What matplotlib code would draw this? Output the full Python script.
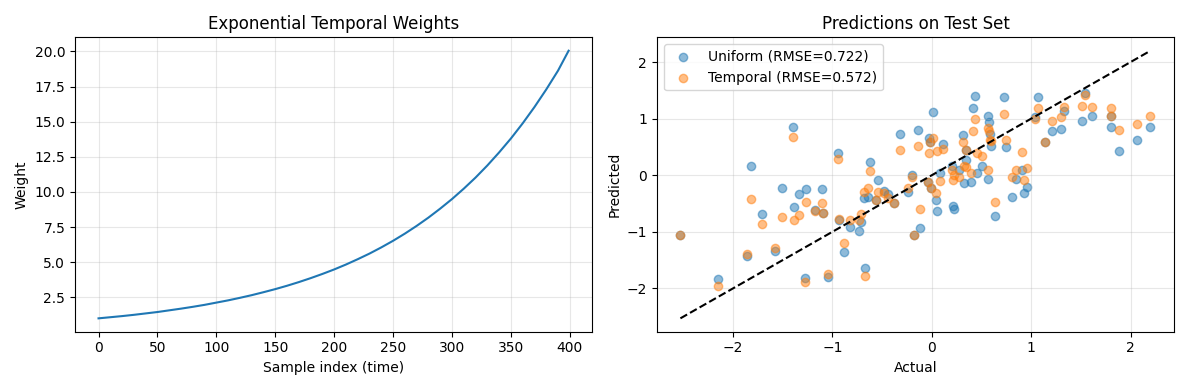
import numpy as np
import matplotlib.pyplot as plt

# Gewichte (alle 10 Samples)
sample_idx = [0, 10, 20, 30, 40, 50, 60, 70, 80, 90, 100,
              110, 120, 130, 140, 150, 160, 170, 180, 190, 200,
              210, 220, 230, 240, 250, 260, 270, 280, 290, 300,
              310, 320, 330, 340, 350, 360, 370, 380, 390, 399]
weights = [1.00, 1.08, 1.16, 1.25, 1.35, 1.45, 1.57, 1.69, 1.82, 1.96, 2.12,
           2.28, 2.46, 2.65, 2.86, 3.08, 3.32, 3.58, 3.86, 4.16, 4.48,
           4.83, 5.21, 5.61, 6.05, 6.52, 7.03, 7.58, 8.17, 8.81, 9.49,
           10.23, 11.02, 11.88, 12.81, 13.80, 14.88, 16.04, 17.29, 18.63, 20.05]

# Testset: tatsaechlich / Vorhersage uniform / Vorhersage temporal
actual = [-2.53, -2.15, -1.86, -1.82, -1.71, -1.58, -1.51, -1.40, -1.39, -1.34,
          -1.28, -1.27, -1.18, -1.11, -1.10, -1.04, -0.94, -0.93, -0.88, -0.82,
          -0.73, -0.71, -0.68, -0.67, -0.64, -0.62, -0.56, -0.54, -0.48, -0.44,
          -0.38, -0.32, -0.24, -0.20, -0.18, -0.14, -0.12, 0.01, -0.03, -0.02,
          0.11, 0.08, -0.04, -0.01, 0.04, 0.05, 0.21, 0.22, 0.20, 0.27,
          0.31, 0.32, 0.34, 0.34, 0.39, 0.41, 0.43, 0.45, 0.50, 0.56,
          0.58, 0.59, 0.60, 0.57, 0.64, 0.73, 0.75, 0.81, 0.85, 0.91,
          0.96, 0.93, 1.04, 1.07, 1.14, 1.21, 1.30, 1.33, 1.51, 1.54,
          1.61, 1.80, 1.80, 1.88, 2.06, 2.20]
pred_uniform = [-1.05, -1.83, -1.42, 0.17, -0.68, -1.34, -0.23, 0.86, -0.57, -0.33,
                -1.82, -0.24, -0.62, -0.24, -0.67, -1.80, 0.40, -0.80, -1.36, -0.92,
                -0.98, -0.83, -0.40, -1.64, -0.38, 0.24, -0.43, -0.09, -0.28, -0.33,
                -0.49, 0.72, -0.29, 0.00, -1.06, 0.80, -0.94, 1.12, 0.66, 0.59,
                0.55, 0.03, -0.12, -0.23, -0.43, -0.63, -0.55, -0.59, 0.17, 0.10,
                0.71, -0.14, 0.45, 0.26, -0.12, 1.19, 1.40, 0.03, 0.17, 1.05,
                0.94, 0.72, 0.52, -0.07, -0.72, 1.38, 0.50, -0.38, -0.07, 0.10,
                -0.21, -0.32, 1.03, 1.38, 0.59, 0.78, 0.82, 1.13, 0.96, 1.45,
                1.05, 0.86, 1.05, 0.43, 0.63, 0.86]
pred_temporal = [-1.05, -1.95, -1.40, -0.42, -0.87, -1.29, -0.74, 0.68, -0.79, -0.70,
                 -1.88, -0.47, -0.64, -0.50, -0.67, -1.75, 0.29, -0.78, -1.19, -0.80,
                 -0.80, -0.69, -0.29, -1.78, -0.23, 0.07, -0.43, -0.29, -0.32, -0.40,
                 -0.49, 0.44, -0.23, -0.03, -1.06, 0.51, -0.59, 0.66, 0.40, 0.59,
                 0.46, -0.11, -0.12, -0.23, -0.32, 0.43, -0.09, 0.00, 0.09, -0.03,
                 0.59, 0.16, 0.45, 0.14, 0.03, 0.78, 0.99, 0.40, 0.34, 0.83,
                 0.78, 0.63, 0.60, 0.09, -0.48, 1.08, 0.63, -0.04, 0.09, 0.41,
                 0.13, -0.09, 1.00, 1.18, 0.59, 0.96, 1.02, 1.21, 1.22, 1.41,
                 1.21, 1.19, 1.05, 0.79, 0.91, 1.05]

rmse_uniform = 0.722
rmse_temporal = 0.572

fig, axes = plt.subplots(1, 2, figsize=(11.89, 3.9), dpi=100)

# Links: Gewichte
ax = axes[0]
ax.plot(sample_idx, weights)
ax.set_title('Exponential Temporal Weights')
ax.set_xlabel('Sample index (time)')
ax.set_ylabel('Weight')
ax.grid(True, alpha=0.3)

# Rechts: Vorhersagen
ax = axes[1]
ax.scatter(actual, pred_uniform, alpha=0.5, label=f'Uniform (RMSE={rmse_uniform:.3f})')
ax.scatter(actual, pred_temporal, alpha=0.5, label=f'Temporal (RMSE={rmse_temporal:.3f})')
lims = [min(actual), max(actual)]
ax.plot(lims, lims, 'k--')
ax.set_title('Predictions on Test Set')
ax.set_xlabel('Actual')
ax.set_ylabel('Predicted')
ax.legend(loc='upper left')
ax.grid(True, alpha=0.3)

plt.tight_layout()
plt.savefig('out.png')
